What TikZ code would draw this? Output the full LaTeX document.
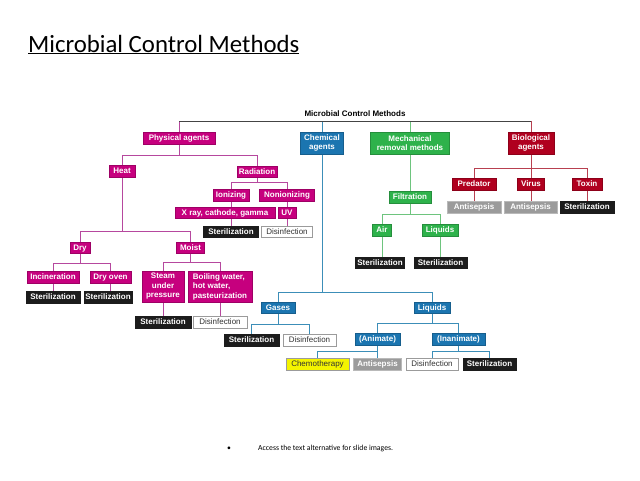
\documentclass[tikz,border=0pt]{standalone}
\usepackage{fontspec}
\setmainfont{Liberation Sans}
\newfontfamily\cfont{Carlito}
\usetikzlibrary{backgrounds}
\definecolor{mag}{RGB}{198,0,126}
\definecolor{magL}{RGB}{182,72,158}
\definecolor{blu}{RGB}{27,117,176}
\definecolor{bluL}{RGB}{60,142,184}
\definecolor{grn}{RGB}{46,178,75}
\definecolor{grnL}{RGB}{110,196,126}
\definecolor{red1}{RGB}{176,0,31}
\definecolor{redL}{RGB}{184,64,80}
\definecolor{gry}{RGB}{155,155,155}
\definecolor{blk}{RGB}{28,28,28}
\definecolor{yel}{RGB}{244,244,0}
\definecolor{bar}{RGB}{68,68,68}
\tikzset{
  box/.style={inner sep=0pt, font=\bfseries\fontsize{8}{9.5}\selectfont, text=white, line width=0.5pt, text height=5.6pt, text depth=0pt},
  ml/.style={align=center, text height={}, text depth={}},
  mg/.style={box, fill=mag, draw=mag!80!black},
  bl/.style={box, fill=blu, draw=blu!80!black},
  gr/.style={box, fill=grn, draw=grn!80!black},
  rd/.style={box, fill=red1, draw=red1!80!black},
  gy/.style={box, fill=gry, draw=gry!70!white},
  bk/.style={box, fill=blk, draw=blk},
  wh/.style={box, font=\fontsize{8}{9.5}\selectfont, fill=white, draw=gry, text=black!80},
  ye/.style={box, font=\fontsize{8}{9.5}\selectfont, fill=yel, draw=gry, text=black!80},
  conn/.style={line width=0.9pt},
  lm/.style={conn, draw=magL},
  lb/.style={conn, draw=bluL},
  lg/.style={conn, draw=grnL},
  lr/.style={conn, draw=redL},
  lk/.style={conn, draw=bar},
}
\begin{document}
\begin{tikzpicture}[x=1pt,y=-1pt]
\useasboundingbox (0,0) rectangle (640,480);

\node[anchor=base west, inner sep=0pt, font=\cfont\fontsize{24.8}{28}\selectfont] (title) at (28,52) {\underline{Microbial Control Methods}};
\node[inner sep=0pt, font=\bfseries\fontsize{8}{9.5}\selectfont] (hdr) at (355,114) {Microbial Control Methods};

% level 1
\node[mg, minimum width=72, minimum height=12] (phys) at (179,138) {Physical agents};
\node[bl, ml, minimum width=43, minimum height=22] (chem) at (322,143) {Chemical\\agents};
\node[gr, ml, minimum width=79, minimum height=22] (mech) at (410,143) {Mechanical\\removal methods};
\node[rd, ml, minimum width=46, minimum height=22] (bio) at (531,143) {Biological\\agents};

% physical
\node[mg, minimum width=26, minimum height=12] (heat) at (122,171) {Heat};
\node[mg, minimum width=40, minimum height=11] (rad) at (257,172) {Radiation};
\node[mg, minimum width=36, minimum height=12] (ion) at (231,195) {Ionizing};
\node[mg, minimum width=55, minimum height=12] (nonion) at (287,195) {Nonionizing};
\node[mg, minimum width=100, minimum height=11] (xray) at (225,212.5) {X ray, cathode, gamma};
\node[mg, minimum width=18, minimum height=11] (uv) at (287,212.5) {UV};
\node[bk, minimum width=55, minimum height=11] (sterR) at (231,232) {Sterilization};
\node[wh, minimum width=51, minimum height=11] (disR) at (287,232) {Disinfection};
\node[mg, minimum width=20, minimum height=11] (dry) at (80,247.5) {Dry};
\node[mg, minimum width=28, minimum height=11] (moist) at (190.5,247.5) {Moist};
\node[mg, minimum width=52, minimum height=12] (incin) at (53,277) {Incineration};
\node[mg, minimum width=41, minimum height=12] (dryoven) at (110.5,277) {Dry oven};
\node[bk, minimum width=54, minimum height=12] (sterI) at (53,297) {Sterilization};
\node[bk, minimum width=48, minimum height=12] (sterD) at (108,297) {Sterilization};
\node[mg, ml, minimum width=42, minimum height=31] (steam) at (163,286.5) {Steam\\under\\pressure};
\node[mg, ml, minimum width=64, minimum height=31, align=left] (boil) at (220,286.5) {Boiling water,\\hot water,\\pasteurization};
\node[bk, minimum width=56, minimum height=12] (sterS) at (163,322) {Sterilization};
\node[wh, minimum width=54, minimum height=12] (disB) at (220,322) {Disinfection};

% mechanical
\node[gr, minimum width=42, minimum height=12] (filt) at (410,197) {Filtration};
\node[gr, minimum width=19, minimum height=12] (air) at (382,230) {Air};
\node[gr, minimum width=36, minimum height=12] (liqM) at (440,230) {Liquids};
\node[bk, minimum width=49, minimum height=11] (sterA) at (380,262.5) {Sterilization};
\node[bk, minimum width=53, minimum height=11] (sterL) at (440.5,262.5) {Sterilization};

% biological
\node[rd, minimum width=44, minimum height=12] (pred) at (474,184) {Predator};
\node[rd, minimum width=27, minimum height=12] (virus) at (531,184) {Virus};
\node[rd, minimum width=30, minimum height=12] (toxin) at (587,184) {Toxin};
\node[gy, minimum width=54, minimum height=12] (antP) at (474,207) {Antisepsis};
\node[gy, minimum width=53, minimum height=12] (antV) at (530.5,207) {Antisepsis};
\node[bk, minimum width=54, minimum height=12] (sterT) at (587,207) {Sterilization};

% chemical
\node[bl, minimum width=34, minimum height=11] (gases) at (278,307.5) {Gases};
\node[bl, minimum width=36, minimum height=11] (liqC) at (432,307.5) {Liquids};
\node[bk, minimum width=55, minimum height=12] (sterG) at (251.5,340) {Sterilization};
\node[wh, minimum width=53, minimum height=12] (disG) at (309.5,340) {Disinfection};
\node[bl, minimum width=45, minimum height=12] (anim) at (377.5,339) {(Animate)};
\node[bl, minimum width=53, minimum height=12] (inanim) at (458.5,339) {(Inanimate)};
\node[ye, minimum width=63, minimum height=12] (chemo) at (317.5,364) {Chemotherapy};
\node[gy, minimum width=48, minimum height=12] (antA) at (377.5,364) {Antisepsis};
\node[wh, minimum width=52, minimum height=12] (disI) at (432,364) {Disinfection};
\node[bk, minimum width=53, minimum height=12] (sterN) at (489.5,364) {Sterilization};

% footer
\node[inner sep=0pt, font=\cfont\fontsize{7.7}{9}\selectfont] (bul) at (229,449) {•};
\node[anchor=west, inner sep=0pt, font=\cfont\fontsize{7.7}{9}\selectfont] (foot) at (258,448.5) {Access the text alternative for slide images.};

\begin{scope}[on background layer]
\fill[white] (0,0) rectangle (640,480);
\draw[lm] (phys.north) -- (phys.north |- 0,121);
\draw[lb] (chem.north) -- (chem.north |- 0,121);
\draw[lg] (mech.north) -- (mech.north |- 0,121);
\draw[lr] (bio.north) -- (bio.north |- 0,121);
\draw[lk] (phys.north |- 0,121) -- (bio.north |- 0,121);
% physical
\draw[lm] (phys.south) -- (phys.south |- 0,155);
\draw[lm] (heat.north) |- (rad.north |- 0,155) -- (rad.north);
\draw[lm] (rad.south) -- (rad.south |- 0,182);
\draw[lm] (ion.north) |- (nonion.north |- 0,182) -- (nonion.north);
\draw[lm] (ion.south) -- (sterR.north);
\draw[lm] (nonion.south) -- (disR.north);
\draw[lm] (heat.south) -- (heat.south |- 0,231);
\draw[lm] (dry.north) |- (moist.north |- 0,231) -- (moist.north);
\draw[lm] (dry.south) -- (dry.south |- 0,263);
\draw[lm] (incin.north) |- (dryoven.north |- 0,263) -- (dryoven.north);
\draw[lm] (incin.south) -- (sterI.north);
\draw[lm] (dryoven.south) -- (dryoven.south |- sterD.north);
\draw[lm] (moist.south) -- (moist.south |- 0,262);
\draw[lm] (steam.north) |- (boil.north |- 0,262) -- (boil.north);
\draw[lm] (steam.south) -- (sterS.north);
\draw[lm] (boil.south) -- (disB.north);
% mechanical
\draw[lg] (mech.south) -- (filt.north);
\draw[lg] (filt.south) -- (filt.south |- 0,214);
\draw[lg] (air.north) |- (liqM.north |- 0,214) -- (liqM.north);
\draw[lg] (air.south) -- (air.south |- sterA.north);
\draw[lg] (liqM.south) -- (liqM.south |- sterL.north);
% biological
\draw[lr] (bio.south) -- (bio.south |- 0,168);
\draw[lr] (pred.north) |- (toxin.north |- 0,168) -- (toxin.north);
\draw[lr] (virus.north) -- (virus.north |- 0,168);
\draw[lr] (pred.south) -- (antP.north);
\draw[lr] (virus.south) -- (virus.south |- antV.north);
\draw[lr] (toxin.south) -- (sterT.north);
% chemical
\draw[lb] (chem.south) -- (chem.south |- 0,292);
\draw[lb] (gases.north) |- (liqC.north |- 0,292) -- (liqC.north);
\draw[lb] (gases.south) -- (gases.south |- 0,324);
\draw[lb] (sterG.north) |- (disG.north |- 0,324) -- (disG.north);
\draw[lb] (liqC.south) -- (liqC.south |- 0,323);
\draw[lb] (anim.north) |- (inanim.north |- 0,323) -- (inanim.north);
\draw[lb] (anim.south) -- (anim.south |- 0,351);
\draw[lb] (chemo.north) |- (antA.north |- 0,351) -- (antA.north);
\draw[lb] (inanim.south) -- (inanim.south |- 0,351);
\draw[lb] (disI.north) |- (sterN.north |- 0,351) -- (sterN.north);
\end{scope}
\end{tikzpicture}
\end{document}
